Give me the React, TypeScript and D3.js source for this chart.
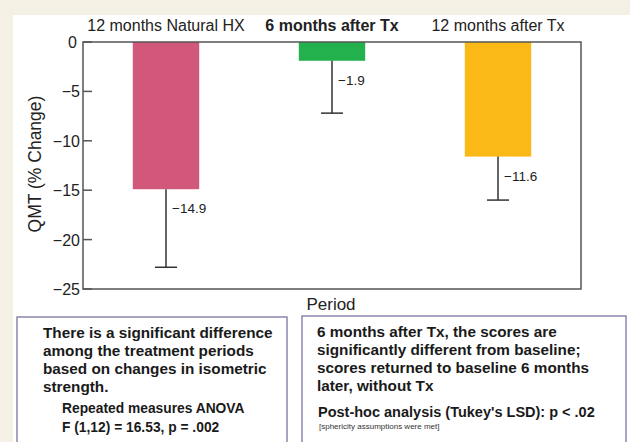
import React from 'react';
import * as d3 from 'd3';

const periods = ['12 months Natural HX', '6 months after Tx', '12 months after Tx'];
const means = [-14.9, -1.9, -11.6];
const errLow = [-22.8, -7.2, -16.0];
const barColors = ['#d1577b', '#22b14c', '#fbb917'];
const yTicks = [0, -5, -10, -15, -20, -25];

const leftBoxLines = [
  'There is a significant difference',
  'among the treatment periods',
  'based on changes in isometric',
  'strength.',
];
const leftBoxStats = ['Repeated measures ANOVA', 'F (1,12) = 16.53, p = .002'];
const rightBoxLines = [
  '6 months after Tx, the scores are',
  'significantly different from baseline;',
  'scores returned to baseline 6 months',
  'later, without Tx',
];

const W = 630;
const H = 442;
const plot = { left: 83, right: 581, top: 42, bottom: 289 };
const font = '"Liberation Sans", Arial, sans-serif';

export default function App() {
  const x = d3
    .scaleBand()
    .domain(periods)
    .range([plot.left, plot.right])
    .paddingInner(0.6)
    .paddingOuter(0.3);
  const y = d3.scaleLinear().domain([0, -25]).range([plot.top, plot.bottom]);

  return (
    <svg
      width={W}
      height={H}
      style={{ position: 'absolute', left: 0, top: 0, fontFamily: font }}
    >
      <rect x={0} y={0} width={W} height={H} fill="#f4f1e4" />
      <rect x={13} y={15} width={W - 13} height={H - 15} fill="#ffffff" />

      {/* category labels on top */}
      {periods.map((p, i) => (
        <text
          key={p}
          x={x(p)! + x.bandwidth() / 2}
          y={31}
          textAnchor="middle"
          fontSize={16}
          fontWeight={i === 1 ? 'bold' : 'normal'}
          fill="#222"
        >
          {p}
        </text>
      ))}

      {/* bars */}
      {periods.map((p, i) => (
        <rect
          key={p}
          x={x(p)}
          y={y(0)}
          width={x.bandwidth()}
          height={y(means[i]) - y(0)}
          fill={barColors[i]}
        />
      ))}

      {/* error bars + values */}
      {periods.map((p, i) => {
        const cx = x(p)! + x.bandwidth() / 2;
        return (
          <g key={p}>
            <line x1={cx} x2={cx} y1={y(means[i])} y2={y(errLow[i])} stroke="#333" strokeWidth={1.5} />
            <line x1={cx - 11} x2={cx + 11} y1={y(errLow[i])} y2={y(errLow[i])} stroke="#333" strokeWidth={1.5} />
            <text x={cx + 6} y={y(means[i]) + 24} fontSize={13.5} fill="#222">
              {'\u2212' + Math.abs(means[i]).toFixed(1)}
            </text>
          </g>
        );
      })}

      {/* frame */}
      <rect
        x={plot.left}
        y={plot.top}
        width={plot.right - plot.left}
        height={plot.bottom - plot.top}
        fill="none"
        stroke="#555"
        strokeWidth={1.5}
      />

      {/* y ticks */}
      {yTicks.map((t) => (
        <g key={t}>
          <line x1={plot.left} x2={plot.left + 9} y1={y(t)} y2={y(t)} stroke="#555" strokeWidth={1.5} />
          <text x={plot.left - (t === 0 ? 6 : 3)} y={y(t) + 6} textAnchor="end" fontSize={16} fill="#222">
            {t === 0 ? '0' : '\u2212' + Math.abs(t)}
          </text>
        </g>
      ))}

      <text
        transform={`translate(41, 164) rotate(-90)`}
        textAnchor="middle"
        fontSize={17.5}
        fill="#222"
      >
        QMT (% Change)
      </text>
      <text x={331} y={310} textAnchor="middle" fontSize={17} fill="#222">
        Period
      </text>

      {/* annotation boxes */}
      <rect x={17} y={317} width={270} height={140} fill="#fff" stroke="#8a87ad" strokeWidth={1.5} />
      <rect x={302} y={316} width={324} height={140} fill="#fff" stroke="#8a87ad" strokeWidth={1.5} />

      {leftBoxLines.map((l, i) => (
        <text key={l} x={43} y={338 + i * 18} fontSize={15.3} fontWeight="bold" fill="#1a1a1a">
          {l}
        </text>
      ))}
      {leftBoxStats.map((l, i) => (
        <text key={l} x={62} y={413 + i * 19} fontSize={13.8} fontWeight="bold" fill="#1a1a1a">
          {l}
        </text>
      ))}
      {rightBoxLines.map((l, i) => (
        <text key={l} x={317} y={337 + i * 18} fontSize={15.3} fontWeight="bold" fill="#1a1a1a">
          {l}
        </text>
      ))}
      <text x={318} y={417} fontSize={14.5} fontWeight="bold" fill="#1a1a1a">
        Post-hoc analysis (Tukey's LSD): p &lt; .02
      </text>
      <text x={319} y={429} fontSize={8} fill="#333">
        [sphericity assumptions were met]
      </text>
    </svg>
  );
}
